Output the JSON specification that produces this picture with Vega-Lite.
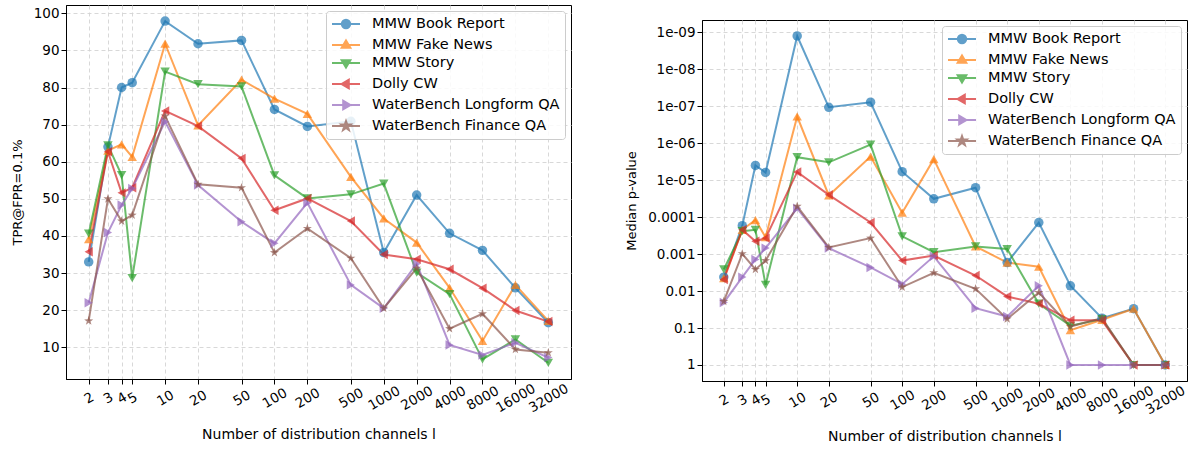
{
  "$schema": "https://vega.github.io/schema/vega-lite/v6.json",
  "padding": {"left": 10, "top": 4, "right": 3, "bottom": 4},
  "spacing": 53,
  "config": {
    "font": "DejaVu Sans",
    "view": {"stroke": "black", "strokeWidth": 1},
    "axis": {
      "labelFontSize": 13.5, "titleFontSize": 14, "titleFontWeight": "normal",
      "labelColor": "black", "titleColor": "black", "tickColor": "black", "domainColor": "black",
      "gridColor": "#d4d4d4", "gridDash": [4, 3], "gridWidth": 0.9, "tickSize": 5
    },
    "legend": {
      "orient": "top-right", "offset": 6, "padding": 5, "fillColor": "rgba(255,255,255,0.85)",
      "strokeColor": "#cccccc", "cornerRadius": 3, "labelFontSize": 14.5, "labelColor": "black",
      "symbolSize": 196, "labelOffset": 25, "rowPadding": 3, "labelLimit": 400
    }
  },
  "resolve": {"scale": {"color": "independent"}, "legend": {"color": "independent"}},
  "datasets": {
    "tpr": [
      {"s": "MMW Book Report", "l": 2, "v": 33.0}, {"s": "MMW Book Report", "l": 3, "v": 64.0}, {"s": "MMW Book Report", "l": 4, "v": 80.0}, {"s": "MMW Book Report", "l": 5, "v": 81.3},
      {"s": "MMW Book Report", "l": 10, "v": 97.9}, {"s": "MMW Book Report", "l": 20, "v": 91.8}, {"s": "MMW Book Report", "l": 50, "v": 92.7}, {"s": "MMW Book Report", "l": 100, "v": 74.1},
      {"s": "MMW Book Report", "l": 200, "v": 69.5}, {"s": "MMW Book Report", "l": 500, "v": 70.9}, {"s": "MMW Book Report", "l": 1000, "v": 35.5}, {"s": "MMW Book Report", "l": 2000, "v": 51.0},
      {"s": "MMW Book Report", "l": 4000, "v": 40.7}, {"s": "MMW Book Report", "l": 8000, "v": 36.1}, {"s": "MMW Book Report", "l": 16000, "v": 26.0}, {"s": "MMW Book Report", "l": 32000, "v": 16.6},
      {"s": "MMW Fake News", "l": 2, "v": 39.1}, {"s": "MMW Fake News", "l": 3, "v": 63.0}, {"s": "MMW Fake News", "l": 4, "v": 64.7}, {"s": "MMW Fake News", "l": 5, "v": 61.3},
      {"s": "MMW Fake News", "l": 10, "v": 91.8}, {"s": "MMW Fake News", "l": 20, "v": 69.8}, {"s": "MMW Fake News", "l": 50, "v": 82.1}, {"s": "MMW Fake News", "l": 100, "v": 77.0},
      {"s": "MMW Fake News", "l": 200, "v": 72.9}, {"s": "MMW Fake News", "l": 500, "v": 55.9}, {"s": "MMW Fake News", "l": 1000, "v": 44.7}, {"s": "MMW Fake News", "l": 2000, "v": 38.2},
      {"s": "MMW Fake News", "l": 4000, "v": 26.0}, {"s": "MMW Fake News", "l": 8000, "v": 11.7}, {"s": "MMW Fake News", "l": 16000, "v": 26.8}, {"s": "MMW Fake News", "l": 32000, "v": 17.1},
      {"s": "MMW Story", "l": 2, "v": 40.6}, {"s": "MMW Story", "l": 3, "v": 64.4}, {"s": "MMW Story", "l": 4, "v": 56.4}, {"s": "MMW Story", "l": 5, "v": 28.6},
      {"s": "MMW Story", "l": 10, "v": 84.3}, {"s": "MMW Story", "l": 20, "v": 80.9}, {"s": "MMW Story", "l": 50, "v": 80.3}, {"s": "MMW Story", "l": 100, "v": 56.3},
      {"s": "MMW Story", "l": 200, "v": 50.1}, {"s": "MMW Story", "l": 500, "v": 51.2}, {"s": "MMW Story", "l": 1000, "v": 54.1}, {"s": "MMW Story", "l": 2000, "v": 30.1},
      {"s": "MMW Story", "l": 4000, "v": 24.3}, {"s": "MMW Story", "l": 8000, "v": 6.7}, {"s": "MMW Story", "l": 16000, "v": 12.1}, {"s": "MMW Story", "l": 32000, "v": 5.8},
      {"s": "Dolly CW", "l": 2, "v": 35.7}, {"s": "Dolly CW", "l": 3, "v": 62.7}, {"s": "Dolly CW", "l": 4, "v": 51.6}, {"s": "Dolly CW", "l": 5, "v": 53.0},
      {"s": "Dolly CW", "l": 10, "v": 73.7}, {"s": "Dolly CW", "l": 20, "v": 69.6}, {"s": "Dolly CW", "l": 50, "v": 60.9}, {"s": "Dolly CW", "l": 100, "v": 46.9},
      {"s": "Dolly CW", "l": 200, "v": 50.1}, {"s": "Dolly CW", "l": 500, "v": 44.0}, {"s": "Dolly CW", "l": 1000, "v": 35.0}, {"s": "Dolly CW", "l": 2000, "v": 33.7},
      {"s": "Dolly CW", "l": 4000, "v": 31.0}, {"s": "Dolly CW", "l": 8000, "v": 25.9}, {"s": "Dolly CW", "l": 16000, "v": 19.9}, {"s": "Dolly CW", "l": 32000, "v": 16.9},
      {"s": "WaterBench Longform QA", "l": 2, "v": 22.0}, {"s": "WaterBench Longform QA", "l": 3, "v": 40.9}, {"s": "WaterBench Longform QA", "l": 4, "v": 48.3}, {"s": "WaterBench Longform QA", "l": 5, "v": 52.8},
      {"s": "WaterBench Longform QA", "l": 10, "v": 70.8}, {"s": "WaterBench Longform QA", "l": 20, "v": 53.7}, {"s": "WaterBench Longform QA", "l": 50, "v": 43.8}, {"s": "WaterBench Longform QA", "l": 100, "v": 38.0},
      {"s": "WaterBench Longform QA", "l": 200, "v": 48.9}, {"s": "WaterBench Longform QA", "l": 500, "v": 26.8}, {"s": "WaterBench Longform QA", "l": 1000, "v": 20.5}, {"s": "WaterBench Longform QA", "l": 2000, "v": 32.5},
      {"s": "WaterBench Longform QA", "l": 4000, "v": 10.6}, {"s": "WaterBench Longform QA", "l": 8000, "v": 7.9}, {"s": "WaterBench Longform QA", "l": 16000, "v": 11.2}, {"s": "WaterBench Longform QA", "l": 32000, "v": 7.2},
      {"s": "WaterBench Finance QA", "l": 2, "v": 17.1}, {"s": "WaterBench Finance QA", "l": 3, "v": 50.0}, {"s": "WaterBench Finance QA", "l": 4, "v": 44.0}, {"s": "WaterBench Finance QA", "l": 5, "v": 45.6},
      {"s": "WaterBench Finance QA", "l": 10, "v": 72.3}, {"s": "WaterBench Finance QA", "l": 20, "v": 53.9}, {"s": "WaterBench Finance QA", "l": 50, "v": 53.0}, {"s": "WaterBench Finance QA", "l": 100, "v": 35.5},
      {"s": "WaterBench Finance QA", "l": 200, "v": 42.0}, {"s": "WaterBench Finance QA", "l": 500, "v": 34.0}, {"s": "WaterBench Finance QA", "l": 1000, "v": 20.5}, {"s": "WaterBench Finance QA", "l": 2000, "v": 31.3},
      {"s": "WaterBench Finance QA", "l": 4000, "v": 15.0}, {"s": "WaterBench Finance QA", "l": 8000, "v": 19.0}, {"s": "WaterBench Finance QA", "l": 16000, "v": 9.4}, {"s": "WaterBench Finance QA", "l": 32000, "v": 8.5}
    ],
    "pv": [
      {"s": "MMW Book Report", "l": 2, "v": 0.0042}, {"s": "MMW Book Report", "l": 3, "v": 0.00017}, {"s": "MMW Book Report", "l": 4, "v": 4.0e-6}, {"s": "MMW Book Report", "l": 5, "v": 6.2e-6},
      {"s": "MMW Book Report", "l": 10, "v": 1.26e-9}, {"s": "MMW Book Report", "l": 20, "v": 1.07e-7}, {"s": "MMW Book Report", "l": 50, "v": 7.8e-8}, {"s": "MMW Book Report", "l": 100, "v": 5.9e-6},
      {"s": "MMW Book Report", "l": 200, "v": 3.2e-5}, {"s": "MMW Book Report", "l": 500, "v": 1.6e-5}, {"s": "MMW Book Report", "l": 1000, "v": 0.0017}, {"s": "MMW Book Report", "l": 2000, "v": 0.00014},
      {"s": "MMW Book Report", "l": 4000, "v": 0.0072}, {"s": "MMW Book Report", "l": 8000, "v": 0.054}, {"s": "MMW Book Report", "l": 16000, "v": 0.03}, {"s": "MMW Book Report", "l": 32000, "v": 1},
      {"s": "MMW Fake News", "l": 2, "v": 0.0045}, {"s": "MMW Fake News", "l": 3, "v": 0.00022}, {"s": "MMW Fake News", "l": 4, "v": 0.00012}, {"s": "MMW Fake News", "l": 5, "v": 0.00035},
      {"s": "MMW Fake News", "l": 10, "v": 1.9e-7}, {"s": "MMW Fake News", "l": 20, "v": 2.6e-5}, {"s": "MMW Fake News", "l": 50, "v": 2.3e-6}, {"s": "MMW Fake News", "l": 100, "v": 7.6e-5},
      {"s": "MMW Fake News", "l": 200, "v": 2.7e-6}, {"s": "MMW Fake News", "l": 500, "v": 0.00062}, {"s": "MMW Fake News", "l": 1000, "v": 0.0017}, {"s": "MMW Fake News", "l": 2000, "v": 0.0022},
      {"s": "MMW Fake News", "l": 4000, "v": 0.115}, {"s": "MMW Fake News", "l": 8000, "v": 0.06}, {"s": "MMW Fake News", "l": 16000, "v": 0.03}, {"s": "MMW Fake News", "l": 32000, "v": 1},
      {"s": "MMW Story", "l": 2, "v": 0.0026}, {"s": "MMW Story", "l": 3, "v": 0.00024}, {"s": "MMW Story", "l": 4, "v": 0.00022}, {"s": "MMW Story", "l": 5, "v": 0.0068},
      {"s": "MMW Story", "l": 10, "v": 2.4e-6}, {"s": "MMW Story", "l": 20, "v": 3.3e-6}, {"s": "MMW Story", "l": 50, "v": 1.1e-6}, {"s": "MMW Story", "l": 100, "v": 0.00033},
      {"s": "MMW Story", "l": 200, "v": 0.00089}, {"s": "MMW Story", "l": 500, "v": 0.00062}, {"s": "MMW Story", "l": 1000, "v": 0.00073}, {"s": "MMW Story", "l": 2000, "v": 0.022},
      {"s": "MMW Story", "l": 4000, "v": 0.087}, {"s": "MMW Story", "l": 8000, "v": 0.057}, {"s": "MMW Story", "l": 16000, "v": 1}, {"s": "MMW Story", "l": 32000, "v": 1},
      {"s": "Dolly CW", "l": 2, "v": 0.0049}, {"s": "Dolly CW", "l": 3, "v": 0.00022}, {"s": "Dolly CW", "l": 4, "v": 0.00045}, {"s": "Dolly CW", "l": 5, "v": 0.00037},
      {"s": "Dolly CW", "l": 10, "v": 6.0e-6}, {"s": "Dolly CW", "l": 20, "v": 2.5e-5}, {"s": "Dolly CW", "l": 50, "v": 0.00014}, {"s": "Dolly CW", "l": 100, "v": 0.0015},
      {"s": "Dolly CW", "l": 200, "v": 0.0011}, {"s": "Dolly CW", "l": 500, "v": 0.0038}, {"s": "Dolly CW", "l": 1000, "v": 0.014}, {"s": "Dolly CW", "l": 2000, "v": 0.022},
      {"s": "Dolly CW", "l": 4000, "v": 0.062}, {"s": "Dolly CW", "l": 8000, "v": 0.062}, {"s": "Dolly CW", "l": 16000, "v": 1}, {"s": "Dolly CW", "l": 32000, "v": 1},
      {"s": "WaterBench Longform QA", "l": 2, "v": 0.0205}, {"s": "WaterBench Longform QA", "l": 3, "v": 0.0042}, {"s": "WaterBench Longform QA", "l": 4, "v": 0.0014}, {"s": "WaterBench Longform QA", "l": 5, "v": 0.00069},
      {"s": "WaterBench Longform QA", "l": 10, "v": 5.8e-5}, {"s": "WaterBench Longform QA", "l": 20, "v": 0.00069}, {"s": "WaterBench Longform QA", "l": 50, "v": 0.0023}, {"s": "WaterBench Longform QA", "l": 100, "v": 0.0065},
      {"s": "WaterBench Longform QA", "l": 200, "v": 0.00115}, {"s": "WaterBench Longform QA", "l": 500, "v": 0.029}, {"s": "WaterBench Longform QA", "l": 1000, "v": 0.049}, {"s": "WaterBench Longform QA", "l": 2000, "v": 0.0072},
      {"s": "WaterBench Longform QA", "l": 4000, "v": 1}, {"s": "WaterBench Longform QA", "l": 8000, "v": 1}, {"s": "WaterBench Longform QA", "l": 16000, "v": 1}, {"s": "WaterBench Longform QA", "l": 32000, "v": 1},
      {"s": "WaterBench Finance QA", "l": 2, "v": 0.019}, {"s": "WaterBench Finance QA", "l": 3, "v": 0.00098}, {"s": "WaterBench Finance QA", "l": 4, "v": 0.0026}, {"s": "WaterBench Finance QA", "l": 5, "v": 0.0015},
      {"s": "WaterBench Finance QA", "l": 10, "v": 5.1e-5}, {"s": "WaterBench Finance QA", "l": 20, "v": 0.00066}, {"s": "WaterBench Finance QA", "l": 50, "v": 0.00037}, {"s": "WaterBench Finance QA", "l": 100, "v": 0.0078},
      {"s": "WaterBench Finance QA", "l": 200, "v": 0.0032}, {"s": "WaterBench Finance QA", "l": 500, "v": 0.0087}, {"s": "WaterBench Finance QA", "l": 1000, "v": 0.057}, {"s": "WaterBench Finance QA", "l": 2000, "v": 0.011},
      {"s": "WaterBench Finance QA", "l": 4000, "v": 0.091}, {"s": "WaterBench Finance QA", "l": 8000, "v": 0.054}, {"s": "WaterBench Finance QA", "l": 16000, "v": 1}, {"s": "WaterBench Finance QA", "l": 32000, "v": 1}
    ]
  },
  "hconcat": [
    {
      "width": 505, "height": 374,
      "data": {"name": "tpr"},
      "resolve": {"scale": {"color": "independent"}, "legend": {"color": "independent"}},
      "encoding": {
        "x": {"field": "l", "type": "quantitative", "title": "Number of distribution channels l",
          "scale": {"type": "log", "domain": [1.24, 51600], "nice": false},
          "axis": {"values": [2, 3, 4, 5, 10, 20, 50, 100, 200, 500, 1000, 2000, 4000, 8000, 16000, 32000], "format": "d",
            "labelAngle": -30, "labelAlign": "center", "labelBaseline": "middle", "labelPadding": 14, "labelOverlap": false, "labelFlush": false,
            "titlePadding": 13,
            "encode": {"labels": {"dx": {"value": {"expr": "-1.4*length(datum.label)"}}, "dy": {"value": {"expr": "2.4*length(datum.label)"}}}}}},
        "y": {"field": "v", "type": "quantitative", "title": "TPR@FPR=0.1%",
          "scale": {"domain": [1.43, 102.24], "nice": false, "zero": false},
          "axis": {"values": [10, 20, 30, 40, 50, 60, 70, 80, 90, 100], "titleFontSize": 13, "titlePadding": 9}},
        "color": {"field": "s", "type": "nominal", "sort": null,
          "scale": {"domain": ["MMW Book Report", "MMW Fake News", "MMW Story", "Dolly CW", "WaterBench Longform QA", "WaterBench Finance QA"],
            "range": ["#1f77b4", "#ff7f0e", "#2ca02c", "#d62728", "#9467bd", "#8c564b"]},
          "legend": null}
      },
      "layer": [
        {"mark": {"type": "line", "strokeWidth": 2, "opacity": 0.7}},
        {"transform": [{"filter": "datum.s === 'MMW Book Report'"}], "mark": {"type": "point", "filled": true, "size": 90, "opacity": 0.7, "shape": "circle"}},
        {"transform": [{"filter": "datum.s === 'MMW Fake News'"}], "mark": {"type": "point", "filled": true, "size": 90, "opacity": 0.7, "shape": "triangle-up"}},
        {"transform": [{"filter": "datum.s === 'MMW Story'"}], "mark": {"type": "point", "filled": true, "size": 90, "opacity": 0.7, "shape": "triangle-down"}},
        {"transform": [{"filter": "datum.s === 'Dolly CW'"}], "mark": {"type": "point", "filled": true, "size": 90, "opacity": 0.7, "shape": "triangle-left"}},
        {"transform": [{"filter": "datum.s === 'WaterBench Longform QA'"}], "mark": {"type": "point", "filled": true, "size": 90, "opacity": 0.7, "shape": "triangle-right"}},
        {"transform": [{"filter": "datum.s === 'WaterBench Finance QA'"}], "mark": {"type": "point", "filled": true, "size": 90, "opacity": 0.7, "shape": "M0,-1L0.235,-0.324L0.951,-0.309L0.38,0.124L0.588,0.809L0,0.4L-0.588,0.809L-0.38,0.124L-0.951,-0.309L-0.235,-0.324Z"}},
        {
          "mark": {"type": "point", "filled": true, "opacity": 0},
          "encoding": {
            "color": {"field": "s", "type": "nominal", "sort": null,
              "scale": {"domain": ["MMW Book Report", "MMW Fake News", "MMW Story", "Dolly CW", "WaterBench Longform QA", "WaterBench Finance QA"],
                "range": ["#1f77b4", "#ff7f0e", "#2ca02c", "#d62728", "#9467bd", "#8c564b"]},
              "legend": {"title": null,
                "encode": {"symbols": {"update": {
                  "shape": {"signal": "['M-1,0H3M1.6,0A0.6,0.6 0 1,1 0.4,0A0.6,0.6 0 1,1 1.6,0Z','M-1,0H3M1,-0.65L1.62,0.4L0.38,0.4Z','M-1,0H3M1,0.65L1.62,-0.4L0.38,-0.4Z','M-1,0H3M0.35,0L1.4,-0.62L1.4,0.62Z','M-1,0H3M1.65,0L0.6,-0.62L0.6,0.62Z','M-1,0H3M1,-0.7L1.165,-0.227L1.666,-0.216L1.266,0.087L1.412,0.566L1,0.28L0.588,0.566L0.734,0.087L0.334,-0.216L0.835,-0.227Z'][indexof(['MMW Book Report','MMW Fake News','MMW Story','Dolly CW','WaterBench Longform QA','WaterBench Finance QA'], datum.value)]"},
                  "stroke": {"signal": "['#1f77b4','#ff7f0e','#2ca02c','#d62728','#9467bd','#8c564b'][indexof(['MMW Book Report','MMW Fake News','MMW Story','Dolly CW','WaterBench Longform QA','WaterBench Finance QA'], datum.value)]"},
                  "fill": {"signal": "['#1f77b4','#ff7f0e','#2ca02c','#d62728','#9467bd','#8c564b'][indexof(['MMW Book Report','MMW Fake News','MMW Story','Dolly CW','WaterBench Longform QA','WaterBench Finance QA'], datum.value)]"},
                  "strokeWidth": {"value": 2}, "opacity": {"value": 0.7}}}}}}
          }
        }
      ]
    },
    {
      "spacing": 0,
      "resolve": {"scale": {"color": "independent"}, "legend": {"color": "independent"}},
      "vconcat": [
        {
          "width": 485, "height": 14,
          "view": {"stroke": null},
          "data": {"values": []},
          "mark": {"type": "rule"},
          "encoding": {}
        },
        {
          "width": 485, "height": 361,
          "data": {"name": "pv"},
          "resolve": {"scale": {"color": "independent"}, "legend": {"color": "independent"}},
          "encoding": {
            "x": {"field": "l", "type": "quantitative", "title": "Number of distribution channels l",
              "scale": {"type": "log", "domain": [1.24, 51600], "nice": false},
              "axis": {"values": [2, 3, 4, 5, 10, 20, 50, 100, 200, 500, 1000, 2000, 4000, 8000, 16000, 32000], "format": "d",
                "labelAngle": -30, "labelAlign": "center", "labelBaseline": "middle", "labelPadding": 14, "labelOverlap": false, "labelFlush": false,
                "titlePadding": 13,
                "encode": {"labels": {"dx": {"value": {"expr": "-1.4*length(datum.label)"}}, "dy": {"value": {"expr": "2.4*length(datum.label)"}}}}}},
            "y": {"field": "v", "type": "quantitative", "title": "Median p-value",
              "scale": {"type": "log", "domain": [4.66e-10, 2.71], "nice": false, "reverse": true},
              "axis": {"values": [1e-9, 1e-8, 1e-7, 1e-6, 1e-5, 0.0001, 0.001, 0.01, 0.1, 1],
                "labelExpr": "datum.value < 5e-5 ? '1e-0' + format(-round(log(datum.value)/LN10), 'd') : format(datum.value, '~g')",
                "titleFontSize": 13, "titlePadding": 9}},
            "color": {"field": "s", "type": "nominal", "sort": null,
              "scale": {"domain": ["MMW Book Report", "MMW Fake News", "MMW Story", "Dolly CW", "WaterBench Longform QA", "WaterBench Finance QA"],
                "range": ["#1f77b4", "#ff7f0e", "#2ca02c", "#d62728", "#9467bd", "#8c564b"]},
              "legend": null}
          },
          "layer": [
            {"mark": {"type": "line", "strokeWidth": 2, "opacity": 0.7}},
            {"transform": [{"filter": "datum.s === 'MMW Book Report'"}], "mark": {"type": "point", "filled": true, "size": 90, "opacity": 0.7, "shape": "circle"}},
            {"transform": [{"filter": "datum.s === 'MMW Fake News'"}], "mark": {"type": "point", "filled": true, "size": 90, "opacity": 0.7, "shape": "triangle-up"}},
            {"transform": [{"filter": "datum.s === 'MMW Story'"}], "mark": {"type": "point", "filled": true, "size": 90, "opacity": 0.7, "shape": "triangle-down"}},
            {"transform": [{"filter": "datum.s === 'Dolly CW'"}], "mark": {"type": "point", "filled": true, "size": 90, "opacity": 0.7, "shape": "triangle-left"}},
            {"transform": [{"filter": "datum.s === 'WaterBench Longform QA'"}], "mark": {"type": "point", "filled": true, "size": 90, "opacity": 0.7, "shape": "triangle-right"}},
            {"transform": [{"filter": "datum.s === 'WaterBench Finance QA'"}], "mark": {"type": "point", "filled": true, "size": 90, "opacity": 0.7, "shape": "M0,-1L0.235,-0.324L0.951,-0.309L0.38,0.124L0.588,0.809L0,0.4L-0.588,0.809L-0.38,0.124L-0.951,-0.309L-0.235,-0.324Z"}},
            {
              "mark": {"type": "point", "filled": true, "opacity": 0},
              "encoding": {
                "color": {"field": "s", "type": "nominal", "sort": null,
                  "scale": {"domain": ["MMW Book Report", "MMW Fake News", "MMW Story", "Dolly CW", "WaterBench Longform QA", "WaterBench Finance QA"],
                    "range": ["#1f77b4", "#ff7f0e", "#2ca02c", "#d62728", "#9467bd", "#8c564b"]},
                  "legend": {"title": null,
                    "encode": {"symbols": {"update": {
                      "shape": {"signal": "['M-1,0H3M1.6,0A0.6,0.6 0 1,1 0.4,0A0.6,0.6 0 1,1 1.6,0Z','M-1,0H3M1,-0.65L1.62,0.4L0.38,0.4Z','M-1,0H3M1,0.65L1.62,-0.4L0.38,-0.4Z','M-1,0H3M0.35,0L1.4,-0.62L1.4,0.62Z','M-1,0H3M1.65,0L0.6,-0.62L0.6,0.62Z','M-1,0H3M1,-0.7L1.165,-0.227L1.666,-0.216L1.266,0.087L1.412,0.566L1,0.28L0.588,0.566L0.734,0.087L0.334,-0.216L0.835,-0.227Z'][indexof(['MMW Book Report','MMW Fake News','MMW Story','Dolly CW','WaterBench Longform QA','WaterBench Finance QA'], datum.value)]"},
                      "stroke": {"signal": "['#1f77b4','#ff7f0e','#2ca02c','#d62728','#9467bd','#8c564b'][indexof(['MMW Book Report','MMW Fake News','MMW Story','Dolly CW','WaterBench Longform QA','WaterBench Finance QA'], datum.value)]"},
                      "fill": {"signal": "['#1f77b4','#ff7f0e','#2ca02c','#d62728','#9467bd','#8c564b'][indexof(['MMW Book Report','MMW Fake News','MMW Story','Dolly CW','WaterBench Longform QA','WaterBench Finance QA'], datum.value)]"},
                      "strokeWidth": {"value": 2}, "opacity": {"value": 0.7}}}}}}
              }
            }
          ]
        }
      ]
    }
  ]
}
